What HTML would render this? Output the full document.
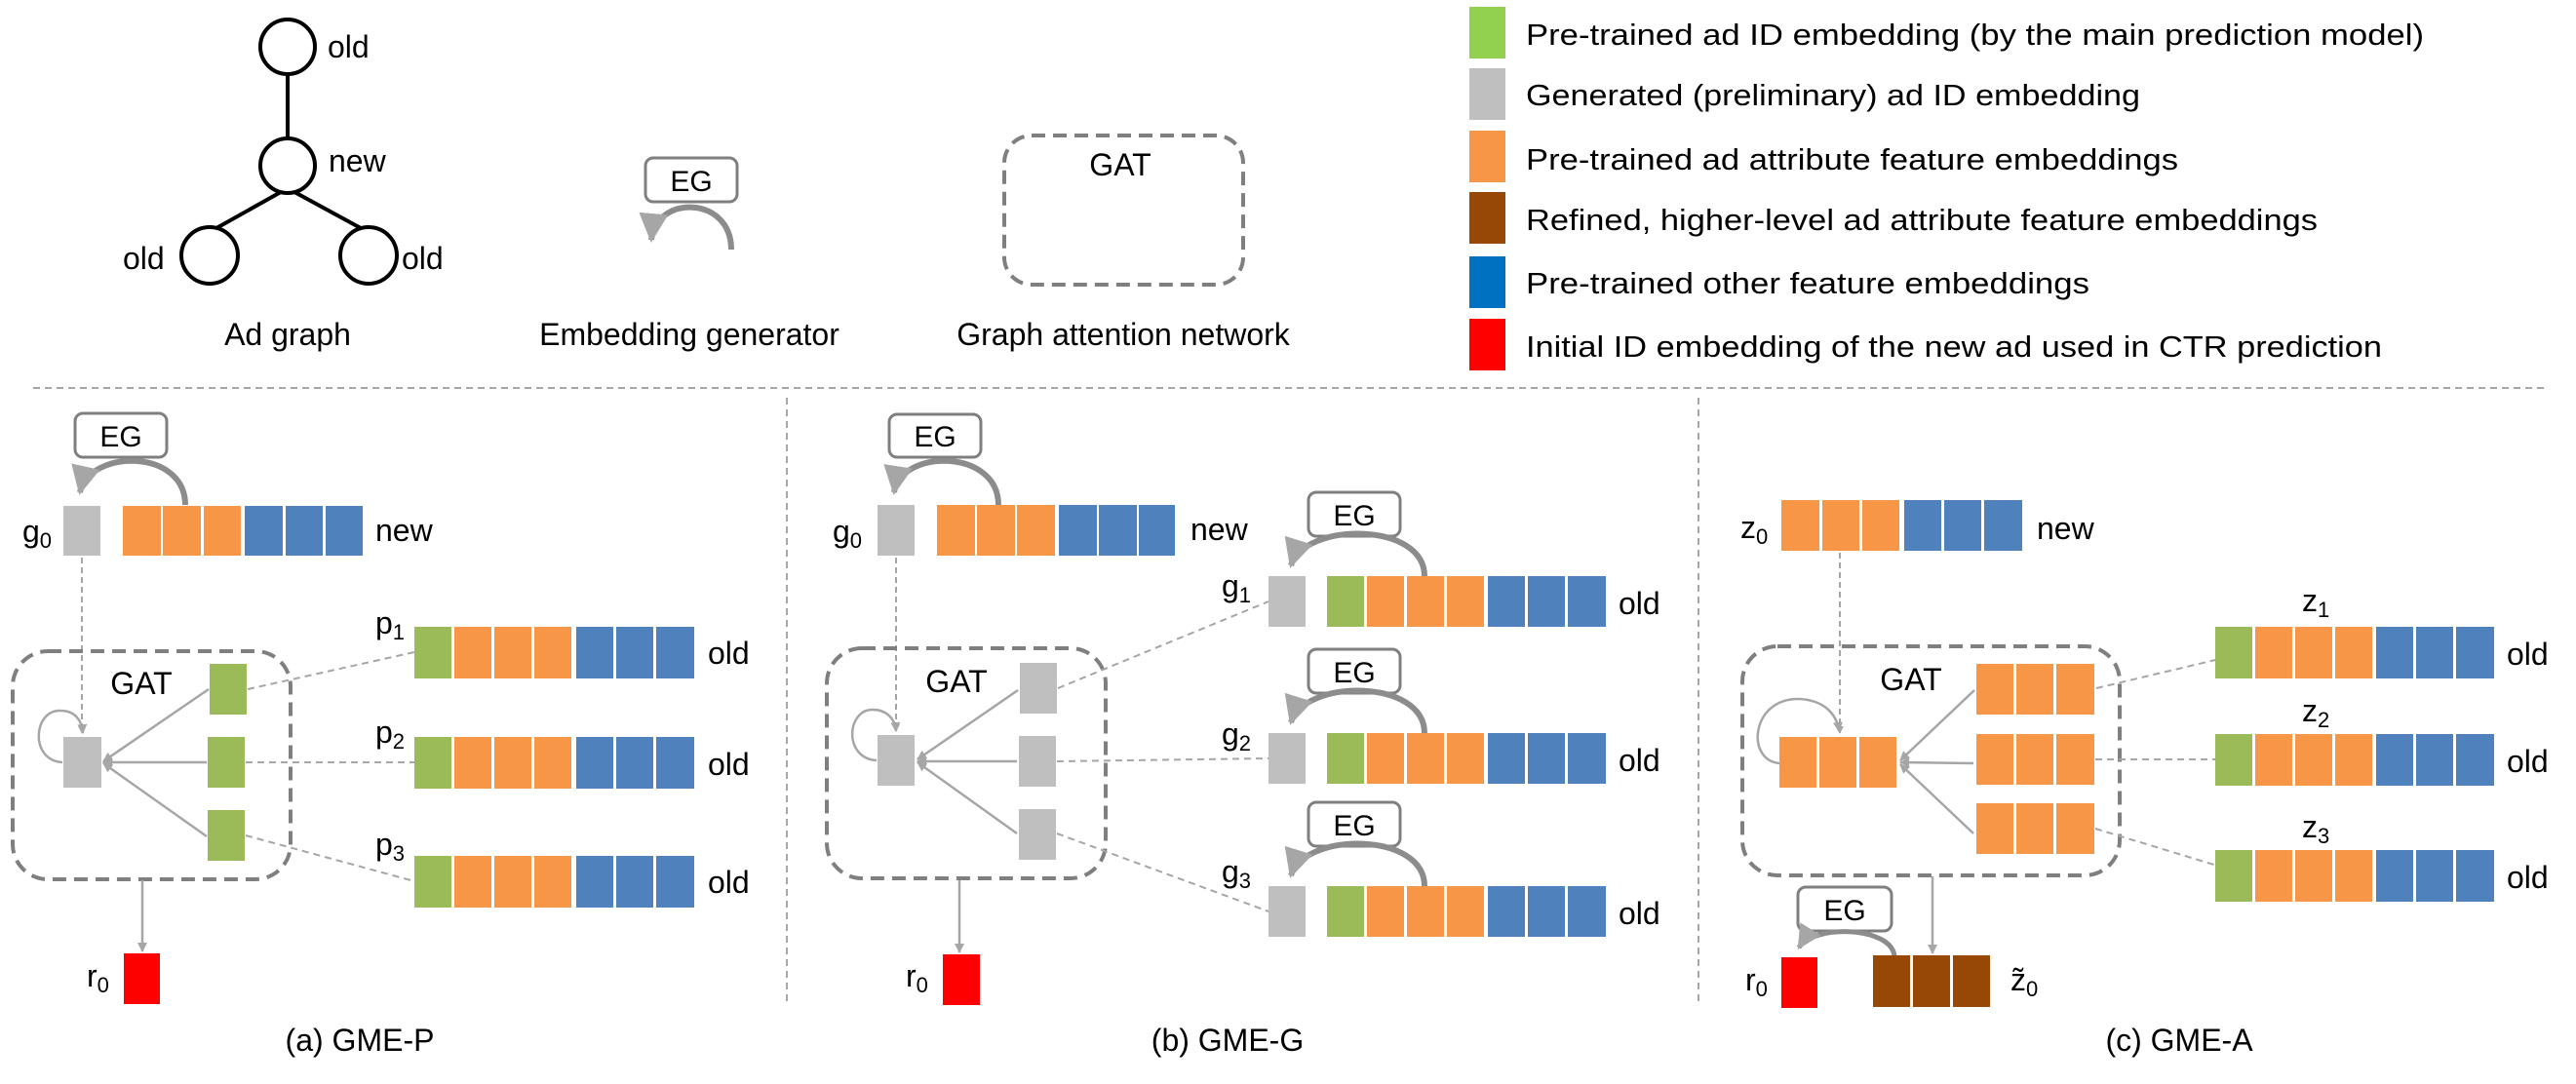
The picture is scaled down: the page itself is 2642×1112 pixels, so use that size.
<!DOCTYPE html>
<html><head><meta charset="utf-8"><style>
html,body{margin:0;padding:0;background:#fff;}
svg{display:block;}
text{font-family:"Liberation Sans",sans-serif;fill:#000;}
</style></head><body>
<svg width="2642" height="1112" viewBox="0 0 2642 1112" xmlns="http://www.w3.org/2000/svg">
<defs>
<marker id="ah" viewBox="0 0 10 10" refX="8" refY="5" markerWidth="7" markerHeight="7" orient="auto" markerUnits="userSpaceOnUse">
</marker>
<marker id="a" viewBox="0 0 10 10" refX="9" refY="5" markerWidth="5" markerHeight="5" orient="auto">
<path d="M0,0 L10,5 L0,10 Z" fill="#a6a6a6"/></marker>
<marker id="ab" viewBox="0 0 10 10" refX="9" refY="5" markerWidth="4" markerHeight="4" orient="auto">
<path d="M0,0 L10,5 L0,10 Z" fill="#a6a6a6"/></marker>
</defs>

<!-- ===== Top legend area ===== -->
<g stroke="#000" stroke-width="4" fill="none">
<line x1="295" y1="76" x2="295" y2="142"/>
<line x1="288" y1="197" x2="222" y2="234"/>
<line x1="302" y1="197" x2="370" y2="234"/>
<circle cx="295" cy="48" r="28" fill="#fff"/>
<circle cx="295" cy="170" r="28" fill="#fff"/>
<circle cx="215" cy="262" r="29" fill="#fff"/>
<circle cx="378" cy="262" r="29" fill="#fff"/>
</g>
<g font-size="32">
<text x="336" y="59">old</text>
<text x="337" y="176">new</text>
<text x="126" y="276">old</text>
<text x="412" y="276">old</text>
<text x="295" y="354" text-anchor="middle">Ad graph</text>
<text x="707" y="354" text-anchor="middle">Embedding generator</text>
<text x="1152" y="354" text-anchor="middle">Graph attention network</text>
</g>
<rect x="662" y="162" width="94" height="45" rx="8" fill="#fff" stroke="#7f7f7f" stroke-width="3"/>
<text x="709" y="196" font-size="30" text-anchor="middle">EG</text>
<path d="M750,256 C750,200 672,200 668,246" fill="none" stroke="#8c8c8c" stroke-width="6" marker-end="url(#a)"/>
<rect x="1030" y="139" width="245" height="153" rx="28" fill="none" stroke="#7f7f7f" stroke-width="4" stroke-dasharray="14 8"/>
<text x="1149" y="180" font-size="32" text-anchor="middle">GAT</text>

<rect x="1507" y="7" width="37" height="53" fill="#92d050"/>
<rect x="1507" y="70" width="37" height="53" fill="#bfbfbf"/>
<rect x="1507" y="134" width="37" height="53" fill="#f79646"/>
<rect x="1507" y="197" width="37" height="53" fill="#974806"/>
<rect x="1507" y="263" width="37" height="53" fill="#0070c0"/>
<rect x="1507" y="327" width="37" height="53" fill="#ff0000"/>
<g font-size="31">
<text x="1565" y="46" textLength="921" lengthAdjust="spacingAndGlyphs">Pre-trained ad ID embedding (by the main prediction model)</text>
<text x="1565" y="108" textLength="630" lengthAdjust="spacingAndGlyphs">Generated (preliminary) ad ID embedding</text>
<text x="1565" y="174" textLength="669" lengthAdjust="spacingAndGlyphs">Pre-trained ad attribute feature embeddings</text>
<text x="1565" y="236" textLength="812" lengthAdjust="spacingAndGlyphs">Refined, higher-level ad attribute feature embeddings</text>
<text x="1565" y="301" textLength="578" lengthAdjust="spacingAndGlyphs">Pre-trained other feature embeddings</text>
<text x="1565" y="366" textLength="878" lengthAdjust="spacingAndGlyphs">Initial ID embedding of the new ad used in CTR prediction</text>
</g>

<!-- separators -->
<g stroke="#a6a6a6" stroke-width="2" stroke-dasharray="7 5">
<line x1="34" y1="398" x2="2612" y2="398"/>
<line x1="807" y1="408" x2="807" y2="1030"/>
<line x1="1742" y1="408" x2="1742" y2="1030"/>
</g>

<!-- ===== Panel (a) ===== -->
<rect x="77" y="424" width="94" height="45" rx="8" fill="#fff" stroke="#7f7f7f" stroke-width="3"/>
<text x="124" y="458" font-size="30" text-anchor="middle">EG</text>
<path d="M190,518 C190,460 92,460 82,505" fill="none" stroke="#8c8c8c" stroke-width="6" marker-end="url(#a)"/>
<text x="23" y="556" font-size="32">g<tspan font-size="22" dy="6">0</tspan></text>
<rect x="65" y="519" width="38" height="51" fill="#bfbfbf"/>
<g fill="#f79646"><rect x="126" y="519" width="39" height="51"/><rect x="167" y="519" width="39" height="51"/><rect x="209" y="519" width="38" height="51"/></g>
<g fill="#4f81bd"><rect x="251" y="519" width="39" height="51"/><rect x="293" y="519" width="38" height="51"/><rect x="334" y="519" width="38" height="51"/></g>
<text x="385" y="555" font-size="32">new</text>
<line x1="84" y1="572" x2="84" y2="752" stroke="#a6a6a6" stroke-width="2" stroke-dasharray="6 4" marker-end="url(#ab)"/>

<rect x="13" y="668" width="285" height="234" rx="36" fill="none" stroke="#7f7f7f" stroke-width="4" stroke-dasharray="14 8"/>
<text x="145" y="712" font-size="32" text-anchor="middle">GAT</text>
<rect x="65" y="756" width="39" height="52" fill="#bfbfbf"/>
<g fill="#9bbb59"><rect x="215" y="681" width="38" height="52"/><rect x="213" y="756" width="38" height="52"/><rect x="213" y="831" width="38" height="52"/></g>
<g stroke="#a6a6a6" stroke-width="2.5" fill="none">
<line x1="214" y1="707" x2="106" y2="781" marker-end="url(#ab)"/>
<line x1="212" y1="782" x2="106" y2="782" marker-end="url(#ab)"/>
<line x1="212" y1="858" x2="106" y2="783" marker-end="url(#ab)"/>
<path d="M64,782 C30,780 34,728 62,729 C76,729 84,738 85,752" marker-end="url(#ab)"/>
</g>
<g stroke="#a6a6a6" stroke-width="2" stroke-dasharray="7 5">
<line x1="254" y1="707" x2="425" y2="669"/>
<line x1="252" y1="782" x2="425" y2="782"/>
<line x1="252" y1="857" x2="425" y2="904"/>
</g>
<line x1="146" y1="903" x2="146" y2="976" stroke="#a6a6a6" stroke-width="2.5" marker-end="url(#ab)"/>
<text x="89" y="1012" font-size="32">r<tspan font-size="22" dy="6">0</tspan></text>
<rect x="127" y="978" width="37" height="52" fill="#ff0000"/>
<text x="369" y="1078" font-size="32" text-anchor="middle">(a) GME-P</text>

<g font-size="32">
<text x="385" y="650">p<tspan font-size="22" dy="6">1</tspan></text>
<text x="385" y="762">p<tspan font-size="22" dy="6">2</tspan></text>
<text x="385" y="877">p<tspan font-size="22" dy="6">3</tspan></text>
<text x="726" y="681">old</text>
<text x="726" y="795">old</text>
<text x="726" y="916">old</text>
</g>
<g id="rowA">
<rect x="425" y="643" width="38" height="53" fill="#9bbb59"/>
<g fill="#f79646"><rect x="466" y="643" width="38" height="53"/><rect x="507" y="643" width="38" height="53"/><rect x="548" y="643" width="38" height="53"/></g>
<g fill="#4f81bd"><rect x="591" y="643" width="38" height="53"/><rect x="632" y="643" width="38" height="53"/><rect x="673" y="643" width="39" height="53"/></g>
</g>
<use href="#rowA" y="113"/>
<use href="#rowA" y="235"/>

<!-- ===== Panel (b) ===== -->
<rect x="912" y="425" width="94" height="44" rx="8" fill="#fff" stroke="#7f7f7f" stroke-width="3"/>
<text x="959" y="458" font-size="30" text-anchor="middle">EG</text>
<path d="M1024,518 C1024,460 924,460 917,505" fill="none" stroke="#8c8c8c" stroke-width="6" marker-end="url(#a)"/>
<text x="854" y="556" font-size="32">g<tspan font-size="22" dy="6">0</tspan></text>
<rect x="900" y="518" width="38" height="52" fill="#bfbfbf"/>
<g fill="#f79646"><rect x="961" y="518" width="39" height="52"/><rect x="1002" y="518" width="39" height="52"/><rect x="1043" y="518" width="39" height="52"/></g>
<g fill="#4f81bd"><rect x="1086" y="518" width="39" height="52"/><rect x="1127" y="518" width="39" height="52"/><rect x="1168" y="518" width="37" height="52"/></g>
<text x="1221" y="554" font-size="32">new</text>
<line x1="919" y1="572" x2="919" y2="750" stroke="#a6a6a6" stroke-width="2" stroke-dasharray="6 4" marker-end="url(#ab)"/>

<rect x="848" y="665" width="286" height="236" rx="36" fill="none" stroke="#7f7f7f" stroke-width="4" stroke-dasharray="14 8"/>
<text x="981" y="710" font-size="32" text-anchor="middle">GAT</text>
<rect x="900" y="754" width="38" height="52" fill="#bfbfbf"/>
<g fill="#bfbfbf"><rect x="1046" y="680" width="38" height="52"/><rect x="1045" y="755" width="38" height="52"/><rect x="1045" y="830" width="38" height="52"/></g>
<g stroke="#a6a6a6" stroke-width="2.5" fill="none">
<line x1="1044" y1="708" x2="941" y2="779" marker-end="url(#ab)"/>
<line x1="1043" y1="781" x2="941" y2="781" marker-end="url(#ab)"/>
<line x1="1043" y1="855" x2="941" y2="782" marker-end="url(#ab)"/>
<path d="M899,780 C865,778 868,728 895,728 C909,728 918,737 919,750" marker-end="url(#ab)"/>
</g>
<g stroke="#a6a6a6" stroke-width="2" stroke-dasharray="7 5">
<line x1="1085" y1="706" x2="1301" y2="617"/>
<line x1="1084" y1="781" x2="1301" y2="778"/>
<line x1="1084" y1="855" x2="1301" y2="935"/>
</g>
<line x1="984" y1="903" x2="984" y2="977" stroke="#a6a6a6" stroke-width="2.5" marker-end="url(#ab)"/>
<text x="929" y="1012" font-size="32">r<tspan font-size="22" dy="6">0</tspan></text>
<rect x="967" y="979" width="38" height="52" fill="#ff0000"/>
<text x="1259" y="1078" font-size="32" text-anchor="middle">(b) GME-G</text>

<g id="rowB">
<rect x="1342" y="505" width="94" height="45" rx="8" fill="#fff" stroke="#7f7f7f" stroke-width="3"/>
<text x="1389" y="539" font-size="30" text-anchor="middle">EG</text>
<path d="M1461,591 C1461,535 1338,535 1324,580" fill="none" stroke="#8c8c8c" stroke-width="6" marker-end="url(#a)"/>
<rect x="1301" y="591" width="38" height="52" fill="#bfbfbf"/>
<rect x="1361" y="591" width="38" height="52" fill="#9bbb59"/>
<g fill="#f79646"><rect x="1402" y="591" width="38" height="52"/><rect x="1443" y="591" width="38" height="52"/><rect x="1484" y="591" width="38" height="52"/></g>
<g fill="#4f81bd"><rect x="1526" y="591" width="38" height="52"/><rect x="1567" y="591" width="38" height="52"/><rect x="1608" y="591" width="39" height="52"/></g>
<text x="1660" y="630" font-size="32">old</text>
</g>
<use href="#rowB" y="161"/>
<use href="#rowB" y="318"/>
<g font-size="32">
<text x="1253" y="612">g<tspan font-size="22" dy="6">1</tspan></text>
<text x="1253" y="764">g<tspan font-size="22" dy="6">2</tspan></text>
<text x="1253" y="905">g<tspan font-size="22" dy="6">3</tspan></text>
</g>

<!-- ===== Panel (c) ===== -->
<text x="1785" y="552" font-size="32">z<tspan font-size="22" dy="6">0</tspan></text>
<g fill="#f79646"><rect x="1827" y="513" width="39" height="52"/><rect x="1869" y="513" width="38" height="52"/><rect x="1910" y="513" width="38" height="52"/></g>
<g fill="#4f81bd"><rect x="1953" y="513" width="38" height="52"/><rect x="1994" y="513" width="38" height="52"/><rect x="2035" y="513" width="39" height="52"/></g>
<text x="2089" y="553" font-size="32">new</text>
<line x1="1887" y1="567" x2="1887" y2="752" stroke="#a6a6a6" stroke-width="2" stroke-dasharray="6 4" marker-end="url(#ab)"/>

<rect x="1787" y="663" width="387" height="235" rx="36" fill="none" stroke="#7f7f7f" stroke-width="4" stroke-dasharray="14 8"/>
<text x="1960" y="708" font-size="32" text-anchor="middle">GAT</text>
<g fill="#f79646">
<rect x="1825" y="756" width="38" height="52"/><rect x="1866" y="756" width="38" height="52"/><rect x="1907" y="756" width="38" height="52"/>
<rect x="2027" y="681" width="38" height="52"/><rect x="2068" y="681" width="38" height="52"/><rect x="2109" y="681" width="39" height="52"/>
<rect x="2027" y="753" width="38" height="52"/><rect x="2068" y="753" width="38" height="52"/><rect x="2109" y="753" width="39" height="52"/>
<rect x="2027" y="824" width="38" height="52"/><rect x="2068" y="824" width="38" height="52"/><rect x="2109" y="824" width="39" height="52"/>
</g>
<g stroke="#a6a6a6" stroke-width="2.5" fill="none">
<line x1="2025" y1="708" x2="1949" y2="780" marker-end="url(#ab)"/>
<line x1="2024" y1="783" x2="1949" y2="782" marker-end="url(#ab)"/>
<line x1="2024" y1="855" x2="1949" y2="784" marker-end="url(#ab)"/>
<path d="M1825,783 C1790,780 1796,716 1845,717 C1870,718 1884,732 1886,750" marker-end="url(#ab)"/>
</g>
<g stroke="#a6a6a6" stroke-width="2" stroke-dasharray="7 5">
<line x1="2150" y1="706" x2="2310" y2="668"/>
<line x1="2149" y1="779" x2="2310" y2="779"/>
<line x1="2149" y1="850" x2="2310" y2="899"/>
</g>
<line x1="1982" y1="899" x2="1982" y2="978" stroke="#a6a6a6" stroke-width="2.5" marker-end="url(#ab)"/>

<g id="rowC">
<rect x="2272" y="643" width="38" height="53" fill="#9bbb59"/>
<g fill="#f79646"><rect x="2313" y="643" width="38" height="53"/><rect x="2354" y="643" width="38" height="53"/><rect x="2395" y="643" width="38" height="53"/></g>
<g fill="#4f81bd"><rect x="2437" y="643" width="38" height="53"/><rect x="2478" y="643" width="38" height="53"/><rect x="2519" y="643" width="39" height="53"/></g>
<text x="2571" y="682" font-size="32">old</text>
</g>
<use href="#rowC" y="110"/>
<use href="#rowC" y="229"/>
<g font-size="32">
<text x="2361" y="627">z<tspan font-size="22" dy="6">1</tspan></text>
<text x="2361" y="740">z<tspan font-size="22" dy="6">2</tspan></text>
<text x="2361" y="859">z<tspan font-size="22" dy="6">3</tspan></text>
</g>

<rect x="1844" y="910" width="96" height="45" rx="8" fill="#fff" stroke="#7f7f7f" stroke-width="3"/>
<text x="1892" y="944" font-size="30" text-anchor="middle">EG</text>
<path d="M1943,981 C1940,950 1860,948 1845,972" fill="none" stroke="#8c8c8c" stroke-width="5" marker-end="url(#a)"/>
<text x="1790" y="1016" font-size="32">r<tspan font-size="22" dy="6">0</tspan></text>
<rect x="1827" y="982" width="37" height="52" fill="#ff0000"/>
<g fill="#974806"><rect x="1921" y="980" width="38" height="53"/><rect x="1962" y="980" width="38" height="53"/><rect x="2003" y="980" width="38" height="53"/></g>
<text x="2062" y="1016" font-size="32">z̃<tspan font-size="22" dy="6">0</tspan></text>
<text x="2235" y="1078" font-size="32" text-anchor="middle">(c) GME-A</text>
</svg>
</body></html>
